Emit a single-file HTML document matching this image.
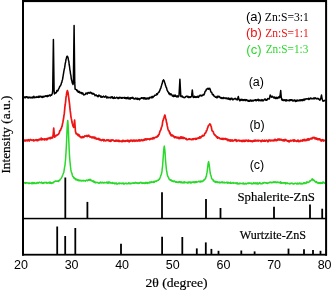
<!DOCTYPE html>
<html><head><meta charset="utf-8"><style>
html,body{margin:0;padding:0;background:#fff;}
body{width:331px;height:291px;overflow:hidden;position:relative;}
svg{position:absolute;left:0;top:0;filter:blur(0.3px);}
.s{font-family:"Liberation Sans",sans-serif;}
.r{font-family:"Liberation Serif",serif;stroke:#000;stroke-width:0.2px;}
</style></head><body>
<svg width="331" height="291" viewBox="0 0 331 291">
<g fill="none" stroke-linejoin="round">
<path d="M24.00 96.57 L24.35 97.21 L24.70 96.95 L25.05 97.90 L25.40 97.86 L25.75 96.91 L26.10 96.69 L26.45 96.81 L26.80 97.24 L27.15 97.58 L27.50 96.91 L27.85 97.02 L28.20 97.93 L28.55 97.40 L28.90 97.76 L29.25 97.27 L29.60 97.13 L29.95 97.74 L30.30 97.70 L30.65 97.26 L31.00 97.93 L31.35 97.74 L31.70 97.82 L32.05 97.04 L32.40 97.90 L32.75 97.18 L33.10 97.53 L33.45 97.66 L33.80 96.34 L34.15 96.69 L34.50 97.62 L34.85 97.73 L35.20 97.20 L35.55 97.36 L35.90 97.19 L36.25 97.09 L36.60 97.36 L36.95 96.52 L37.30 97.25 L37.65 97.24 L38.00 97.02 L38.35 97.33 L38.70 96.30 L39.05 97.35 L39.40 97.15 L39.75 96.33 L40.10 96.21 L40.45 96.69 L40.80 96.24 L41.15 96.91 L41.50 96.57 L41.85 97.18 L42.20 97.53 L42.55 96.55 L42.90 96.31 L43.25 97.15 L43.60 96.35 L43.95 96.65 L44.30 96.18 L44.65 96.73 L45.00 96.15 L45.35 96.23 L45.70 95.79 L46.05 96.19 L46.40 95.77 L46.75 96.00 L47.10 96.77 L47.45 95.52 L47.80 95.73 L48.15 96.22 L48.50 95.86 L48.85 95.73 L49.20 94.94 L49.55 95.22 L49.90 95.34 L50.25 95.97 L50.60 94.99 L50.95 95.17 L51.30 94.85 L51.65 95.11 L52.00 94.27 L52.35 93.54 L52.70 90.60 L53.40 39.40 L54.10 90.53 L54.45 94.01 L54.80 93.09 L55.15 93.29 L55.50 92.73 L55.85 92.54 L56.20 92.76 L56.55 92.08 L56.90 90.50 L57.25 91.12 L57.60 90.49 L57.95 90.84 L58.30 89.40 L58.65 88.99 L59.00 88.20 L59.35 87.78 L59.70 86.36 L60.05 86.15 L60.40 85.83 L60.75 85.04 L61.10 84.37 L61.45 82.80 L61.80 82.42 L62.15 80.57 L62.50 79.64 L62.85 77.76 L63.20 75.31 L63.55 73.29 L63.90 71.15 L64.25 69.30 L64.60 67.96 L64.95 65.54 L65.30 63.15 L65.65 61.92 L66.00 59.34 L66.35 58.39 L66.70 56.89 L67.05 56.24 L67.40 56.15 L67.40 56.14 L67.75 57.16 L68.10 57.83 L68.45 60.16 L68.80 61.03 L69.15 64.50 L69.50 66.24 L69.85 69.54 L70.20 71.14 L70.55 74.11 L70.90 75.39 L71.25 78.55 L71.60 80.12 L71.95 81.40 L72.30 83.07 L72.65 83.38 L73.00 84.57 L73.35 82.69 L74.10 25.60 L74.75 82.64 L75.10 89.12 L75.45 89.17 L75.80 89.43 L76.15 89.65 L76.50 89.73 L76.85 90.82 L77.20 90.18 L77.55 90.75 L77.90 91.90 L78.25 91.32 L78.60 92.26 L78.95 91.25 L79.30 91.87 L79.65 91.83 L80.00 92.91 L80.35 92.42 L80.70 92.78 L81.05 93.10 L81.40 93.69 L81.75 92.40 L82.10 93.42 L82.45 93.95 L82.80 93.01 L83.15 93.95 L83.50 93.92 L83.85 94.90 L84.20 94.58 L84.55 94.78 L84.90 94.45 L85.25 94.48 L85.60 93.70 L85.95 92.99 L86.30 93.71 L86.65 93.28 L87.00 93.50 L87.35 93.85 L87.70 92.95 L88.05 92.48 L88.40 92.48 L88.75 93.10 L89.10 93.03 L89.45 93.00 L89.80 93.24 L90.00 92.38 L90.15 92.15 L90.50 92.32 L90.85 92.45 L91.20 92.45 L91.55 93.36 L91.90 93.41 L92.25 94.07 L92.60 93.18 L92.95 93.89 L93.30 93.45 L93.65 94.14 L94.00 94.04 L94.35 94.07 L94.70 94.73 L95.05 95.68 L95.40 95.40 L95.75 95.37 L96.10 94.84 L96.45 95.39 L96.80 95.97 L97.15 95.84 L97.50 95.85 L97.85 96.70 L98.20 96.64 L98.55 96.05 L98.90 95.10 L99.25 95.27 L99.60 95.40 L99.95 96.12 L100.30 96.09 L100.65 96.99 L101.00 95.91 L101.35 97.16 L101.70 96.99 L102.05 97.17 L102.40 96.87 L102.75 96.89 L103.10 96.62 L103.45 96.08 L103.80 96.66 L104.15 96.87 L104.50 97.12 L104.85 96.67 L105.20 96.63 L105.55 96.20 L105.90 96.04 L106.25 97.29 L106.60 96.94 L106.95 98.13 L107.30 97.00 L107.65 97.05 L108.00 97.19 L108.35 97.75 L108.70 97.57 L109.05 97.29 L109.40 97.49 L109.75 97.69 L110.10 97.89 L110.45 98.02 L110.80 97.13 L111.15 96.91 L111.50 97.44 L111.85 97.69 L112.20 96.68 L112.55 97.91 L112.90 98.24 L113.25 97.88 L113.60 98.37 L113.95 97.83 L114.30 96.96 L114.65 97.69 L115.00 98.27 L115.35 98.19 L115.70 97.89 L116.05 97.87 L116.40 97.69 L116.75 97.22 L117.10 97.66 L117.45 98.06 L117.80 97.86 L118.15 98.66 L118.50 97.63 L118.85 98.30 L119.20 97.51 L119.55 98.00 L119.90 97.33 L120.25 97.96 L120.60 97.55 L120.95 97.57 L121.30 98.30 L121.65 97.56 L122.00 98.06 L122.35 98.15 L122.70 97.49 L123.05 97.57 L123.40 97.68 L123.75 97.73 L124.10 98.10 L124.45 97.43 L124.80 97.37 L125.15 98.14 L125.50 98.51 L125.85 97.70 L126.20 97.94 L126.55 97.81 L126.90 98.71 L127.25 98.25 L127.60 97.82 L127.95 97.26 L128.30 98.25 L128.65 98.01 L129.00 99.02 L129.35 98.64 L129.70 98.24 L130.05 97.69 L130.40 99.02 L130.75 98.02 L131.10 98.10 L131.45 98.17 L131.80 97.87 L132.15 97.37 L132.50 98.20 L132.85 97.47 L133.20 98.29 L133.55 98.75 L133.90 98.30 L134.25 98.90 L134.60 99.05 L134.95 98.84 L135.30 98.61 L135.65 98.00 L136.00 98.42 L136.35 98.99 L136.70 98.53 L137.05 99.26 L137.40 98.27 L137.75 99.39 L138.10 98.53 L138.45 98.90 L138.80 98.86 L139.15 98.58 L139.50 99.69 L139.85 98.89 L140.20 98.97 L140.55 98.70 L140.90 97.98 L141.25 97.98 L141.60 97.75 L141.95 98.31 L142.30 97.94 L142.65 98.07 L143.00 97.71 L143.35 98.64 L143.70 97.67 L144.05 98.90 L144.40 97.82 L144.75 98.44 L145.10 97.79 L145.45 99.03 L145.80 98.38 L146.15 98.91 L146.50 99.07 L146.85 98.11 L147.20 98.60 L147.55 98.11 L147.90 98.84 L148.25 98.78 L148.60 98.00 L148.95 98.95 L149.30 97.46 L149.65 98.27 L150.00 97.48 L150.35 97.19 L150.70 97.61 L151.05 97.48 L151.40 97.83 L151.75 96.80 L152.10 96.39 L152.45 97.66 L152.80 97.52 L153.15 97.17 L153.50 96.55 L153.85 96.48 L154.20 96.21 L154.55 95.23 L154.90 95.37 L155.25 95.31 L155.60 95.23 L155.95 95.02 L156.30 95.10 L156.65 93.70 L157.00 94.32 L157.35 94.40 L157.70 93.36 L158.05 92.97 L158.40 92.54 L158.75 92.02 L159.10 92.23 L159.45 91.29 L159.80 90.38 L160.15 89.44 L160.50 88.69 L160.85 88.08 L161.20 86.50 L161.55 85.43 L161.90 84.13 L162.25 83.37 L162.60 81.62 L162.95 80.58 L163.30 80.55 L163.50 79.83 L163.65 80.20 L164.00 80.34 L164.35 81.54 L164.70 82.91 L165.05 83.47 L165.40 85.13 L165.75 85.83 L166.10 87.22 L166.45 87.54 L166.80 88.91 L167.15 90.43 L167.50 90.77 L167.85 91.67 L168.20 91.98 L168.55 92.62 L168.90 93.70 L169.25 93.00 L169.60 93.98 L169.95 94.73 L170.30 94.22 L170.65 93.80 L171.00 94.73 L171.35 94.09 L171.70 94.90 L172.05 94.88 L172.40 95.89 L172.75 95.87 L173.10 96.46 L173.45 95.25 L173.80 96.57 L174.15 95.23 L174.50 95.52 L174.85 96.33 L175.20 95.04 L175.55 96.27 L175.90 96.40 L176.25 96.00 L176.60 95.97 L176.95 96.96 L177.30 96.42 L177.65 95.80 L178.00 96.76 L178.35 96.88 L178.70 96.30 L179.05 95.33 L179.90 79.20 L180.45 89.80 L180.80 96.36 L181.15 96.62 L181.50 96.30 L181.85 96.17 L182.20 95.98 L182.55 97.07 L182.90 96.97 L183.25 97.38 L183.60 97.04 L183.95 97.50 L184.30 97.46 L184.65 97.67 L185.00 97.24 L185.35 97.34 L185.70 96.45 L186.05 96.43 L186.40 96.17 L186.75 96.45 L187.10 96.18 L187.45 96.42 L187.80 97.22 L188.15 96.37 L188.50 97.44 L188.85 97.10 L189.20 96.81 L189.55 97.52 L189.90 97.23 L190.25 96.71 L190.60 97.44 L190.95 96.92 L191.30 96.70 L191.65 95.94 L192.30 89.90 L193.05 97.09 L193.40 97.14 L193.75 97.50 L194.10 97.40 L194.45 96.32 L194.80 96.78 L195.15 97.21 L195.50 96.67 L195.85 97.43 L196.20 96.63 L196.55 97.18 L196.90 97.36 L197.25 96.73 L197.60 96.39 L197.95 96.89 L198.30 97.44 L198.65 96.39 L199.00 96.74 L199.35 95.67 L199.70 95.65 L200.05 95.13 L200.40 95.84 L200.50 95.81 L200.75 95.82 L201.10 95.31 L201.45 96.04 L201.80 95.48 L202.15 95.69 L202.50 95.35 L202.85 95.00 L203.20 94.38 L203.55 95.05 L203.90 94.95 L204.25 94.22 L204.60 93.46 L204.95 91.89 L205.30 91.15 L205.65 90.95 L206.00 90.75 L206.35 89.30 L206.70 89.37 L206.80 89.27 L207.05 89.25 L207.40 88.44 L207.75 88.46 L208.10 88.24 L208.45 89.16 L208.80 89.16 L209.15 88.63 L209.50 88.88 L209.80 88.41 L209.85 88.97 L210.20 89.25 L210.55 90.92 L210.90 91.64 L211.25 92.31 L211.60 92.16 L211.95 93.11 L212.30 94.34 L212.65 94.73 L213.00 94.65 L213.35 94.55 L213.70 95.76 L214.05 96.10 L214.40 96.19 L214.75 96.32 L215.10 96.73 L215.45 97.25 L215.80 97.27 L216.15 97.15 L216.50 97.73 L216.85 96.60 L217.20 97.80 L217.55 96.25 L217.90 96.21 L218.25 96.56 L218.60 96.27 L218.95 97.13 L219.30 96.51 L219.65 97.04 L220.00 96.91 L220.35 97.98 L220.70 98.10 L221.05 97.84 L221.40 97.62 L221.75 98.44 L222.10 97.88 L222.45 98.43 L222.80 97.90 L223.15 97.98 L223.50 97.45 L223.85 98.49 L224.20 98.12 L224.55 97.89 L224.90 98.12 L225.25 98.00 L225.60 98.08 L225.95 98.74 L226.30 97.94 L226.65 98.58 L227.00 98.35 L227.35 98.90 L227.70 98.23 L228.05 98.14 L228.40 99.09 L228.75 97.90 L229.10 99.23 L229.45 98.84 L229.80 98.76 L230.15 99.73 L230.50 98.45 L230.85 99.11 L231.20 98.36 L231.55 98.96 L231.90 98.26 L232.25 99.02 L232.60 99.77 L232.95 99.87 L233.30 99.12 L233.65 99.26 L234.00 99.13 L234.35 98.77 L234.70 98.86 L235.05 98.37 L235.40 98.73 L235.75 98.47 L236.10 99.38 L236.45 99.21 L236.80 99.35 L237.15 100.02 L237.50 99.33 L238.30 96.40 L238.90 99.15 L239.25 99.96 L239.60 100.29 L239.95 100.94 L240.30 99.55 L240.65 100.10 L241.00 99.63 L241.35 100.12 L241.70 99.34 L242.05 99.36 L242.40 99.87 L242.75 100.48 L243.10 99.66 L243.45 100.41 L243.80 99.68 L244.15 99.64 L244.50 99.61 L244.85 100.39 L245.20 100.37 L245.55 100.60 L245.90 99.62 L246.25 99.84 L246.60 99.86 L246.95 100.20 L247.30 100.88 L247.65 100.41 L248.00 100.17 L248.35 100.60 L248.70 101.32 L249.05 101.18 L249.40 100.98 L249.75 101.28 L250.10 100.05 L250.45 100.11 L250.80 100.70 L251.15 100.47 L251.50 101.14 L251.85 100.36 L252.20 100.38 L252.55 100.91 L252.90 100.31 L253.25 100.98 L253.60 100.20 L253.95 100.32 L254.30 100.25 L254.65 100.38 L255.00 99.74 L255.35 100.43 L255.70 99.75 L256.05 99.73 L256.40 100.84 L256.75 99.97 L257.10 100.14 L257.45 100.18 L257.80 99.89 L258.15 99.22 L258.50 100.52 L258.85 100.81 L259.20 100.66 L259.55 99.84 L259.90 100.11 L260.25 99.91 L260.60 100.32 L260.95 101.02 L261.30 99.95 L261.65 100.26 L262.00 99.59 L262.35 100.40 L262.70 99.95 L263.05 100.88 L263.40 100.55 L263.75 100.43 L264.10 99.88 L264.45 99.36 L264.80 98.95 L265.15 99.33 L265.50 99.12 L265.85 100.22 L266.20 100.21 L266.55 99.78 L266.90 100.15 L267.25 99.63 L267.60 98.69 L267.95 98.57 L268.30 98.67 L268.65 98.91 L269.00 98.49 L269.35 98.87 L270.20 94.90 L270.75 96.31 L271.10 96.12 L271.30 97.19 L271.45 96.79 L271.80 96.77 L272.15 97.02 L272.50 96.25 L272.85 97.02 L273.20 96.98 L273.55 97.43 L273.90 97.97 L274.25 97.06 L274.60 97.89 L274.95 97.66 L275.30 98.53 L275.65 98.51 L276.00 97.25 L276.35 97.91 L276.70 97.58 L277.05 98.53 L277.40 98.31 L277.75 97.63 L278.10 97.93 L278.45 96.95 L278.80 97.66 L279.15 96.95 L279.30 96.64 L279.50 97.68 L279.85 97.38 L280.70 90.60 L281.25 97.22 L281.60 98.94 L281.95 99.89 L282.30 100.33 L282.65 99.38 L283.00 99.58 L283.35 100.60 L283.70 100.30 L284.05 100.18 L284.40 99.81 L284.75 99.89 L285.10 100.74 L285.45 100.19 L285.80 99.78 L286.15 100.92 L286.50 99.78 L286.85 100.49 L287.20 100.58 L287.55 100.17 L287.90 100.46 L288.25 100.37 L288.60 100.45 L288.95 100.71 L289.30 99.90 L289.65 100.73 L290.00 100.29 L290.35 99.68 L290.70 99.87 L291.05 100.41 L291.40 99.93 L291.75 99.79 L292.10 99.84 L292.45 100.78 L292.80 100.43 L293.15 100.99 L293.50 100.24 L293.85 100.72 L294.20 100.75 L294.55 100.72 L294.90 99.89 L295.25 100.97 L295.60 101.42 L295.95 101.02 L296.30 100.46 L296.65 101.13 L297.00 99.97 L297.35 100.23 L297.70 100.87 L298.05 100.26 L298.40 100.70 L298.75 100.42 L299.10 100.75 L299.45 100.79 L299.80 99.96 L300.15 99.70 L300.50 100.62 L300.85 100.32 L301.20 99.90 L301.55 100.51 L301.90 99.69 L302.25 99.86 L302.60 100.63 L302.95 99.48 L303.30 99.75 L303.65 99.20 L304.00 100.41 L304.35 99.62 L304.70 99.01 L305.05 99.71 L305.40 99.05 L305.75 98.90 L306.10 99.08 L306.45 98.77 L306.80 98.97 L307.15 99.07 L307.50 98.71 L307.85 99.01 L308.20 99.10 L308.55 98.26 L308.90 99.54 L309.25 99.14 L309.60 99.07 L309.95 98.85 L310.30 97.92 L310.65 98.53 L311.00 98.52 L311.35 98.75 L311.70 98.35 L312.05 98.64 L312.40 98.68 L312.75 98.78 L313.10 98.70 L313.45 97.96 L313.80 98.73 L314.15 98.69 L314.50 98.81 L314.85 97.82 L315.20 97.76 L315.55 98.15 L315.90 98.13 L316.25 98.86 L316.60 98.61 L316.95 98.84 L317.30 98.58 L317.65 98.35 L318.00 98.61 L318.35 98.94 L318.70 98.65 L319.05 99.56 L319.40 99.64 L319.75 100.15 L320.10 100.06 L320.45 99.03 L320.80 97.99 L321.50 95.10 L322.20 99.45 L322.55 100.03 L322.90 101.11 L323.25 100.59 L323.60 101.21 L323.95 100.93 L324.30 100.85 L324.65 100.35 L325.00 100.84" stroke="#000" stroke-width="1.5"/>
<path d="M24.00 139.91 L24.35 140.05 L24.70 140.89 L25.05 140.89 L25.40 140.02 L25.75 140.97 L26.10 140.54 L26.45 140.28 L26.80 140.07 L27.15 139.98 L27.50 140.79 L27.85 140.39 L28.20 140.23 L28.55 139.69 L28.90 140.12 L29.25 141.05 L29.60 140.40 L29.95 140.01 L30.30 139.51 L30.65 139.87 L31.00 139.88 L31.35 139.91 L31.70 140.30 L32.05 140.23 L32.40 140.02 L32.75 140.06 L33.10 140.58 L33.45 139.86 L33.80 140.96 L34.15 139.94 L34.50 140.45 L34.85 140.53 L35.20 140.29 L35.55 140.11 L35.90 139.72 L36.25 139.82 L36.60 139.68 L36.95 140.58 L37.30 140.45 L37.65 139.89 L38.00 140.59 L38.35 139.65 L38.70 139.72 L39.05 139.39 L39.40 139.11 L39.75 139.96 L40.10 139.79 L40.45 139.57 L40.80 139.52 L41.15 138.16 L41.50 139.05 L41.85 139.88 L42.20 138.79 L42.55 138.85 L42.90 139.11 L43.25 139.46 L43.60 139.15 L43.95 139.29 L44.30 139.92 L44.65 138.81 L45.00 139.79 L45.35 139.22 L45.70 139.42 L46.05 139.46 L46.40 138.68 L46.75 139.88 L47.10 139.74 L47.45 138.89 L47.80 138.40 L48.15 138.01 L48.50 138.21 L48.85 138.62 L49.20 138.65 L49.55 137.89 L49.90 137.65 L50.25 137.76 L50.60 138.61 L50.95 137.36 L51.30 137.41 L51.65 138.10 L52.00 137.26 L52.35 137.24 L52.70 137.75 L53.05 136.03 L53.70 128.20 L54.45 136.24 L54.80 137.22 L55.15 135.81 L55.50 135.72 L55.85 135.86 L56.20 135.43 L56.55 135.60 L56.90 135.25 L57.25 134.97 L57.60 134.50 L57.95 134.56 L58.30 134.50 L58.65 134.01 L59.00 133.05 L59.35 132.75 L59.70 130.91 L60.05 130.31 L60.40 130.59 L60.75 129.44 L61.10 128.58 L61.45 127.98 L61.80 126.62 L62.15 126.04 L62.50 123.66 L62.85 122.46 L63.20 120.27 L63.55 118.74 L63.90 115.93 L64.25 113.91 L64.60 110.37 L64.95 106.38 L65.30 104.26 L65.65 101.32 L66.00 97.27 L66.35 95.71 L66.70 92.92 L67.05 91.72 L67.40 90.52 L67.40 91.52 L67.75 91.60 L68.10 92.90 L68.45 95.78 L68.80 98.06 L69.15 101.12 L69.50 103.54 L69.85 107.32 L70.20 110.67 L70.55 113.11 L70.90 116.28 L71.25 118.39 L71.60 119.85 L71.95 122.05 L72.30 123.46 L72.65 124.59 L73.00 126.19 L73.35 126.54 L73.70 127.31 L74.05 125.00 L74.60 120.10 L75.10 126.47 L75.45 131.22 L75.80 132.55 L76.15 133.79 L76.50 133.41 L76.85 134.23 L77.20 134.28 L77.55 134.98 L77.90 134.12 L78.25 135.64 L78.60 135.84 L78.95 134.86 L79.30 135.19 L79.65 136.03 L80.00 136.87 L80.35 136.90 L80.70 136.87 L81.05 137.61 L81.40 137.14 L81.75 137.65 L82.10 137.13 L82.45 136.54 L82.80 137.60 L83.15 137.59 L83.50 136.80 L83.85 137.22 L84.20 136.86 L84.55 135.93 L84.90 136.17 L85.25 136.16 L85.60 136.04 L85.95 135.93 L86.30 136.02 L86.65 136.23 L87.00 136.38 L87.00 135.42 L87.35 136.52 L87.70 135.84 L88.05 136.17 L88.40 135.71 L88.75 135.22 L89.10 136.20 L89.45 136.22 L89.80 136.92 L90.15 136.73 L90.50 136.56 L90.85 136.60 L91.20 137.39 L91.55 137.61 L91.90 137.79 L92.25 137.08 L92.60 137.64 L92.95 136.84 L93.30 137.73 L93.65 137.36 L94.00 138.02 L94.35 137.25 L94.70 138.25 L95.05 137.35 L95.40 138.67 L95.75 138.30 L96.10 138.11 L96.45 138.47 L96.80 139.16 L97.15 138.88 L97.50 138.61 L97.85 138.65 L98.20 139.31 L98.55 139.26 L98.90 138.46 L99.25 139.82 L99.60 139.29 L99.95 139.85 L100.30 139.47 L100.65 140.01 L101.00 140.34 L101.35 140.60 L101.70 140.09 L102.05 139.68 L102.40 140.04 L102.75 139.62 L103.10 139.60 L103.45 139.76 L103.80 141.00 L104.15 140.34 L104.50 139.72 L104.85 140.33 L105.20 140.62 L105.55 140.84 L105.90 140.80 L106.25 140.73 L106.60 140.01 L106.95 140.21 L107.30 140.35 L107.65 139.89 L108.00 140.28 L108.35 139.91 L108.70 139.97 L109.05 141.11 L109.40 140.33 L109.75 140.91 L110.10 141.15 L110.45 141.30 L110.80 140.13 L111.15 139.82 L111.50 140.88 L111.85 140.16 L112.20 140.11 L112.55 139.85 L112.90 140.17 L113.25 140.03 L113.60 140.47 L113.95 140.68 L114.30 141.11 L114.65 140.84 L115.00 141.15 L115.35 140.48 L115.70 140.36 L116.05 141.19 L116.40 140.21 L116.75 141.02 L117.10 141.02 L117.45 141.03 L117.80 140.38 L118.15 140.27 L118.50 141.32 L118.85 140.41 L119.20 140.55 L119.55 141.43 L119.90 141.23 L120.25 141.30 L120.60 141.07 L120.95 141.14 L121.30 141.15 L121.65 140.94 L122.00 141.78 L122.35 141.34 L122.70 141.36 L123.05 140.24 L123.40 140.88 L123.75 141.28 L124.10 141.03 L124.45 141.27 L124.80 140.68 L125.15 140.82 L125.50 140.59 L125.85 141.31 L126.20 140.83 L126.55 140.87 L126.90 140.71 L127.25 140.14 L127.60 141.20 L127.95 140.85 L128.30 140.48 L128.65 141.52 L129.00 141.45 L129.35 141.77 L129.70 140.91 L130.05 140.30 L130.40 140.22 L130.75 141.00 L131.10 140.69 L131.45 140.14 L131.80 140.56 L132.15 140.61 L132.50 141.29 L132.85 140.38 L133.20 140.45 L133.55 140.73 L133.90 140.12 L134.25 141.28 L134.60 140.20 L134.95 140.82 L135.30 140.59 L135.65 141.07 L136.00 140.06 L136.35 140.51 L136.70 140.77 L137.05 140.32 L137.40 140.97 L137.75 140.73 L138.10 141.03 L138.45 140.32 L138.80 139.95 L139.15 139.93 L139.50 139.95 L139.85 141.05 L140.20 140.88 L140.55 140.18 L140.90 140.26 L141.25 139.74 L141.60 140.41 L141.95 140.59 L142.30 139.90 L142.65 140.22 L143.00 140.56 L143.35 140.04 L143.70 140.00 L144.05 139.32 L144.40 140.10 L144.75 139.08 L145.10 139.52 L145.45 139.20 L145.80 138.87 L146.15 139.88 L146.50 138.98 L146.85 139.36 L147.20 139.49 L147.55 138.86 L147.90 139.01 L148.25 139.15 L148.60 139.19 L148.95 139.23 L149.30 138.95 L149.65 139.68 L150.00 138.94 L150.35 139.12 L150.70 138.79 L151.05 138.35 L151.40 138.53 L151.75 138.92 L152.10 138.91 L152.45 138.99 L152.80 137.96 L153.15 138.08 L153.50 137.64 L153.85 138.73 L154.20 138.11 L154.55 138.11 L154.90 137.61 L155.25 137.23 L155.60 137.31 L155.95 137.02 L156.30 137.17 L156.65 137.34 L157.00 137.11 L157.35 136.14 L157.70 135.75 L158.05 136.22 L158.40 135.41 L158.75 134.65 L159.10 134.64 L159.45 133.00 L159.80 131.95 L160.15 130.89 L160.50 130.33 L160.85 129.76 L161.20 128.28 L161.55 127.01 L161.90 126.31 L162.25 125.24 L162.60 122.16 L162.95 120.56 L163.30 120.00 L163.65 118.32 L164.00 117.58 L164.35 116.63 L164.70 115.13 L164.70 115.85 L165.05 115.32 L165.40 117.35 L165.75 118.92 L166.10 119.59 L166.45 122.26 L166.80 122.94 L167.15 125.41 L167.50 126.85 L167.85 128.46 L168.20 129.79 L168.55 130.75 L168.90 130.91 L169.25 131.10 L169.60 133.05 L169.95 132.54 L170.30 134.25 L170.65 133.94 L171.00 135.60 L171.35 135.36 L171.70 135.00 L172.05 135.86 L172.40 135.12 L172.75 135.36 L173.10 135.71 L173.45 136.11 L173.80 136.09 L174.15 137.29 L174.50 136.80 L174.85 137.69 L175.20 136.76 L175.55 137.01 L175.90 137.42 L176.25 137.75 L176.60 137.10 L176.95 137.23 L177.30 137.97 L177.65 137.32 L178.00 137.38 L178.35 138.27 L178.70 137.79 L179.05 137.40 L179.40 138.65 L179.75 138.12 L180.10 137.90 L180.45 138.37 L180.80 136.85 L181.15 138.06 L181.50 137.01 L181.85 137.18 L182.00 138.49 L182.20 137.75 L182.55 137.20 L182.90 138.22 L183.25 137.40 L183.60 138.40 L183.95 137.88 L184.30 137.75 L184.65 137.99 L185.00 138.41 L185.35 138.78 L185.70 138.64 L186.05 138.43 L186.40 139.36 L186.75 139.68 L187.10 139.29 L187.45 139.45 L187.80 139.59 L188.15 139.28 L188.50 139.24 L188.85 138.86 L189.20 139.25 L189.55 138.90 L189.90 138.88 L190.25 139.11 L190.60 139.36 L190.95 139.21 L191.30 139.71 L191.65 139.26 L192.00 139.43 L192.35 139.10 L192.70 138.80 L193.05 139.62 L193.40 138.73 L193.75 138.86 L194.10 138.89 L194.45 139.00 L194.80 138.63 L195.15 138.44 L195.50 139.31 L195.85 138.96 L196.20 138.40 L196.55 139.12 L196.90 138.77 L197.25 138.54 L197.60 137.99 L197.95 138.07 L198.30 137.78 L198.65 138.47 L199.00 138.39 L199.35 137.70 L199.70 136.91 L200.05 136.85 L200.40 137.97 L200.75 137.92 L201.10 137.13 L201.45 136.39 L201.80 136.41 L202.15 136.08 L202.50 135.33 L202.85 136.11 L203.20 135.81 L203.55 135.49 L203.90 135.53 L204.25 135.20 L204.60 133.95 L204.95 133.28 L205.30 133.02 L205.65 132.97 L206.00 131.98 L206.35 130.67 L206.70 130.69 L207.05 129.72 L207.40 128.30 L207.75 127.90 L208.10 126.38 L208.45 125.81 L208.80 125.11 L209.15 125.14 L209.50 124.55 L209.60 124.73 L209.85 123.77 L210.20 124.58 L210.55 124.68 L210.90 125.85 L211.25 126.69 L211.60 128.62 L211.95 130.44 L212.30 131.08 L212.65 131.16 L213.00 131.48 L213.35 131.93 L213.70 133.70 L214.05 133.99 L214.40 134.49 L214.75 135.15 L215.10 134.86 L215.45 135.74 L215.80 135.89 L216.15 136.10 L216.50 137.08 L216.85 137.24 L217.20 136.79 L217.55 138.24 L217.90 137.33 L218.25 137.80 L218.60 137.69 L218.95 137.99 L219.30 137.94 L219.65 138.37 L220.00 138.77 L220.35 138.91 L220.70 138.65 L221.05 138.38 L221.40 139.06 L221.75 139.20 L222.10 139.26 L222.45 138.45 L222.80 138.62 L223.15 139.42 L223.50 138.59 L223.85 138.49 L224.20 138.99 L224.55 138.84 L224.90 139.24 L225.25 138.48 L225.60 138.92 L225.95 139.19 L226.30 139.35 L226.65 138.99 L227.00 139.83 L227.35 139.22 L227.70 139.77 L228.05 140.74 L228.40 139.64 L228.75 140.27 L229.10 140.01 L229.45 140.75 L229.80 140.16 L230.15 139.90 L230.50 141.07 L230.85 140.75 L231.20 139.96 L231.55 140.55 L231.90 140.28 L232.25 141.08 L232.60 140.06 L232.95 140.72 L233.30 140.97 L233.65 140.69 L234.00 140.46 L234.35 140.23 L234.70 139.83 L235.05 139.59 L235.40 139.70 L235.75 140.69 L236.10 140.48 L236.45 139.89 L236.80 141.36 L237.15 140.86 L237.50 140.38 L237.85 140.81 L238.20 140.62 L238.55 140.22 L238.90 140.68 L239.25 140.56 L239.60 140.31 L239.95 141.14 L240.30 140.87 L240.65 140.68 L241.00 140.51 L241.35 141.01 L241.70 140.54 L242.05 141.59 L242.40 140.79 L242.75 141.16 L243.10 140.23 L243.45 140.62 L243.80 140.89 L244.15 141.54 L244.50 140.49 L244.85 140.90 L245.20 140.33 L245.55 141.23 L245.90 140.83 L246.25 140.19 L246.60 140.60 L246.95 140.45 L247.30 140.65 L247.65 141.11 L248.00 141.41 L248.35 140.07 L248.70 140.69 L249.05 141.13 L249.40 140.65 L249.75 140.69 L250.10 140.67 L250.45 141.30 L250.80 140.66 L251.15 140.86 L251.50 140.89 L251.85 141.20 L252.20 141.67 L252.55 141.74 L252.90 140.79 L253.25 140.63 L253.60 141.12 L253.95 140.92 L254.30 140.28 L254.65 141.18 L255.00 140.94 L255.35 140.23 L255.70 140.79 L256.05 140.33 L256.40 140.85 L256.75 140.84 L257.10 140.29 L257.45 140.32 L257.80 140.65 L258.15 141.14 L258.50 140.42 L258.85 140.48 L259.20 140.41 L259.55 140.65 L259.90 140.70 L260.25 140.56 L260.60 141.11 L260.95 141.67 L261.30 140.57 L261.65 141.46 L262.00 140.37 L262.35 140.67 L262.70 140.26 L263.05 140.68 L263.40 141.13 L263.75 141.25 L264.10 141.13 L264.45 140.94 L264.80 140.24 L265.15 141.07 L265.50 141.23 L265.85 140.66 L266.20 140.63 L266.55 140.17 L266.90 140.50 L267.25 140.72 L267.60 140.58 L267.95 141.79 L268.30 141.48 L268.65 140.44 L269.00 139.86 L269.35 140.39 L269.70 140.24 L270.05 140.91 L270.40 140.39 L270.75 140.19 L271.10 140.89 L271.45 140.33 L271.80 140.51 L272.15 140.25 L272.50 140.63 L272.85 140.42 L273.20 140.80 L273.55 140.53 L273.90 140.51 L274.25 139.54 L274.60 140.73 L274.95 139.56 L275.30 139.42 L275.65 139.83 L276.00 140.50 L276.35 140.72 L276.70 140.47 L277.05 139.63 L277.40 140.27 L277.75 139.10 L278.10 139.09 L278.45 139.16 L278.80 139.94 L279.15 139.84 L279.50 139.04 L279.85 139.88 L280.00 139.98 L280.20 139.23 L280.55 139.99 L280.90 139.72 L281.25 139.35 L281.60 140.08 L281.95 140.15 L282.30 140.57 L282.65 139.97 L283.00 140.21 L283.35 139.93 L283.70 140.55 L284.05 141.11 L284.40 139.60 L284.75 140.03 L285.10 139.89 L285.45 140.44 L285.80 139.44 L286.15 140.35 L286.50 140.15 L286.85 140.64 L287.20 141.12 L287.55 141.08 L287.90 140.63 L288.25 140.64 L288.60 141.59 L288.95 141.17 L289.30 141.75 L289.65 141.21 L290.00 140.50 L290.35 140.37 L290.70 140.53 L291.05 141.08 L291.40 140.52 L291.75 140.54 L292.10 140.53 L292.45 140.11 L292.80 140.52 L293.15 140.49 L293.50 141.26 L293.85 139.82 L294.20 141.16 L294.55 140.14 L294.90 140.81 L295.25 140.47 L295.60 140.56 L295.95 141.23 L296.30 141.20 L296.65 141.38 L297.00 140.64 L297.35 140.47 L297.70 141.06 L298.05 140.04 L298.40 141.37 L298.75 141.61 L299.10 141.18 L299.45 141.45 L299.80 140.92 L300.15 141.28 L300.50 140.29 L300.85 140.44 L301.20 140.64 L301.55 140.57 L301.90 141.15 L302.25 141.08 L302.60 139.79 L302.95 139.94 L303.30 139.63 L303.65 139.95 L304.00 140.76 L304.35 140.16 L304.70 139.34 L305.05 139.95 L305.40 140.54 L305.75 140.59 L306.10 140.50 L306.45 140.23 L306.80 139.47 L307.15 140.26 L307.50 139.23 L307.85 139.85 L308.20 138.70 L308.55 138.90 L308.90 140.13 L309.25 139.13 L309.60 139.49 L309.95 139.25 L310.30 138.80 L310.65 138.53 L311.00 138.32 L311.35 138.78 L311.70 138.46 L312.00 138.87 L312.05 138.73 L312.40 137.52 L312.75 137.69 L313.10 137.69 L313.45 137.32 L313.80 137.78 L314.15 138.43 L314.50 137.50 L314.85 138.42 L315.20 138.86 L315.55 137.98 L315.90 138.98 L316.25 138.11 L316.60 139.22 L316.95 138.40 L317.30 138.52 L317.65 139.57 L318.00 138.87 L318.35 138.91 L318.70 139.17 L319.05 139.79 L319.40 138.84 L319.75 138.99 L320.10 139.02 L320.45 140.01 L320.80 139.75 L321.15 141.11 L321.50 140.27 L321.85 140.26 L322.20 139.71 L322.55 140.61 L322.90 139.88 L323.25 139.96 L323.60 141.06 L323.95 140.01 L324.30 140.43 L324.65 140.54 L325.00 140.12" stroke="#ee1414" stroke-width="1.7"/>
<path d="M24.00 183.19 L24.35 182.78 L24.70 182.96 L25.05 183.23 L25.40 182.63 L25.75 183.16 L26.10 182.86 L26.45 182.93 L26.80 182.79 L27.15 182.99 L27.50 182.83 L27.85 183.03 L28.20 183.05 L28.55 183.40 L28.90 183.04 L29.25 183.53 L29.60 182.93 L29.95 183.33 L30.30 183.17 L30.65 183.33 L31.00 182.99 L31.35 183.67 L31.70 183.35 L32.05 182.51 L32.40 183.07 L32.75 183.71 L33.10 182.64 L33.45 182.98 L33.80 183.53 L34.15 182.66 L34.50 183.40 L34.85 183.08 L35.20 183.27 L35.55 183.13 L35.90 183.68 L36.25 182.96 L36.60 183.19 L36.95 182.52 L37.30 182.98 L37.65 182.66 L38.00 183.18 L38.35 183.24 L38.70 182.38 L39.05 182.35 L39.40 182.35 L39.75 182.34 L40.10 182.92 L40.45 182.75 L40.80 182.79 L41.15 182.72 L41.50 182.15 L41.85 182.59 L42.20 183.37 L42.55 183.26 L42.90 183.07 L43.25 182.61 L43.60 183.42 L43.95 182.76 L44.30 182.93 L44.65 182.36 L45.00 182.45 L45.35 182.56 L45.70 182.71 L46.05 182.35 L46.40 183.17 L46.75 182.64 L47.10 183.16 L47.45 183.05 L47.80 183.02 L48.15 182.44 L48.50 182.40 L48.85 182.92 L49.20 182.47 L49.55 182.20 L49.90 183.12 L50.25 182.13 L50.60 183.30 L50.95 182.69 L51.30 182.79 L51.65 183.48 L52.00 182.78 L52.35 182.97 L52.70 182.44 L53.05 182.88 L53.40 182.57 L53.75 182.18 L54.10 181.56 L54.45 181.69 L54.80 181.65 L55.15 181.19 L55.50 181.29 L55.50 180.90 L55.85 181.13 L56.20 181.09 L56.55 181.19 L56.90 181.20 L57.25 181.23 L57.60 180.94 L57.95 181.01 L58.30 181.38 L58.65 180.57 L59.00 180.79 L59.35 180.81 L59.70 180.40 L60.05 179.59 L60.40 178.91 L60.75 178.86 L61.10 178.47 L61.45 177.82 L61.80 177.07 L62.15 176.59 L62.50 175.41 L62.85 174.83 L63.20 173.64 L63.55 173.05 L63.90 171.98 L64.25 169.36 L64.60 167.21 L64.95 165.58 L65.30 162.02 L65.65 158.24 L66.00 152.58 L66.35 146.21 L66.70 138.87 L67.05 130.13 L67.40 123.30 L67.70 121.06 L67.75 120.38 L68.10 124.52 L68.45 132.18 L68.80 141.01 L69.15 148.69 L69.50 155.74 L69.85 160.27 L70.20 163.56 L70.55 167.26 L70.90 169.97 L71.25 171.72 L71.60 172.76 L71.95 173.27 L72.30 175.21 L72.65 176.19 L73.00 176.64 L73.35 176.93 L73.70 177.44 L74.05 178.34 L74.40 177.82 L74.75 178.83 L75.10 178.70 L75.45 178.50 L75.80 179.69 L76.15 179.38 L76.50 179.15 L76.85 179.31 L77.20 180.27 L77.55 179.62 L77.90 180.51 L78.25 180.63 L78.60 179.82 L78.95 180.29 L79.30 180.73 L79.65 180.38 L80.00 180.83 L80.35 180.34 L80.70 180.72 L81.05 180.28 L81.40 181.03 L81.75 181.01 L82.10 180.70 L82.45 180.53 L82.80 180.67 L83.15 181.01 L83.50 180.39 L83.85 180.78 L84.20 180.53 L84.55 180.63 L84.90 180.64 L85.25 181.23 L85.60 180.38 L85.95 180.38 L86.30 180.27 L86.65 180.07 L87.00 180.52 L87.35 180.86 L87.70 180.76 L88.05 180.10 L88.40 179.79 L88.75 180.16 L89.00 179.66 L89.10 179.70 L89.45 179.92 L89.80 179.38 L90.15 180.39 L90.50 179.52 L90.85 180.04 L91.20 180.69 L91.55 180.53 L91.90 180.55 L92.25 181.18 L92.60 181.51 L92.95 181.27 L93.30 180.82 L93.65 182.05 L94.00 181.24 L94.35 182.17 L94.70 182.57 L95.05 181.81 L95.40 182.46 L95.75 182.87 L96.10 182.39 L96.45 182.50 L96.80 182.32 L97.15 182.44 L97.50 182.38 L97.85 182.58 L98.20 183.13 L98.55 183.08 L98.90 183.17 L99.25 183.03 L99.60 183.16 L99.95 182.35 L100.30 182.78 L100.65 182.09 L101.00 182.59 L101.35 182.98 L101.70 182.50 L102.05 182.26 L102.40 182.29 L102.75 182.49 L103.10 183.11 L103.45 183.05 L103.80 182.64 L104.15 182.91 L104.50 182.77 L104.85 182.34 L105.20 182.55 L105.55 182.85 L105.90 182.78 L106.25 182.71 L106.60 182.47 L106.95 182.04 L107.30 183.06 L107.65 182.23 L108.00 183.20 L108.35 182.08 L108.70 183.01 L109.05 182.23 L109.40 182.93 L109.75 182.14 L110.10 182.80 L110.45 182.58 L110.80 183.14 L111.15 183.12 L111.50 182.89 L111.85 183.20 L112.20 183.52 L112.55 182.44 L112.90 182.98 L113.25 183.21 L113.60 183.29 L113.95 182.97 L114.30 183.74 L114.65 183.00 L115.00 183.74 L115.35 183.31 L115.70 182.94 L116.05 183.78 L116.40 182.99 L116.75 183.95 L117.10 183.79 L117.45 184.09 L117.80 183.97 L118.15 183.46 L118.50 183.12 L118.85 183.25 L119.20 182.97 L119.55 183.84 L119.90 183.24 L120.25 183.30 L120.60 183.28 L120.95 183.36 L121.30 183.67 L121.65 183.36 L122.00 183.41 L122.35 183.03 L122.70 183.43 L123.05 183.37 L123.40 184.00 L123.75 183.13 L124.10 183.86 L124.45 183.98 L124.80 183.77 L125.15 183.22 L125.50 183.41 L125.85 183.35 L126.20 183.31 L126.55 183.21 L126.90 183.96 L127.25 183.63 L127.60 183.61 L127.95 183.27 L128.30 182.88 L128.65 183.67 L129.00 183.20 L129.35 182.93 L129.70 183.67 L130.05 183.17 L130.40 183.81 L130.75 183.68 L131.10 183.09 L131.45 183.22 L131.80 183.45 L132.15 183.35 L132.50 183.17 L132.85 182.79 L133.20 182.88 L133.55 183.26 L133.90 182.92 L134.25 183.21 L134.60 183.15 L134.95 182.75 L135.30 182.42 L135.65 183.09 L136.00 182.67 L136.35 183.12 L136.70 182.79 L137.05 182.97 L137.40 183.24 L137.75 183.47 L138.10 182.73 L138.45 183.39 L138.80 183.36 L139.15 183.10 L139.50 183.25 L139.85 182.70 L140.20 182.51 L140.55 182.68 L140.90 182.34 L141.25 182.68 L141.60 183.12 L141.95 182.57 L142.30 183.37 L142.65 183.00 L143.00 182.77 L143.35 183.31 L143.70 183.04 L144.05 182.87 L144.40 183.04 L144.75 183.55 L145.10 183.21 L145.45 182.59 L145.80 183.29 L146.15 182.39 L146.50 182.73 L146.85 182.77 L147.20 183.57 L147.55 182.45 L147.90 183.28 L148.25 183.02 L148.60 182.44 L148.95 182.88 L149.30 182.96 L149.65 182.79 L150.00 181.85 L150.35 182.65 L150.70 182.05 L151.05 182.59 L151.40 182.18 L151.75 181.54 L152.10 182.33 L152.45 182.26 L152.80 182.26 L153.15 182.49 L153.50 182.06 L153.85 181.39 L154.20 182.34 L154.55 181.56 L154.90 181.52 L155.25 181.05 L155.60 181.60 L155.95 181.57 L156.30 180.91 L156.65 181.23 L157.00 180.52 L157.35 180.53 L157.70 180.33 L158.05 180.21 L158.40 180.32 L158.75 179.79 L159.10 179.11 L159.45 179.30 L159.80 178.19 L160.15 177.56 L160.50 176.47 L160.85 175.28 L161.20 174.87 L161.55 173.24 L161.90 172.06 L162.25 168.34 L162.60 165.85 L162.95 160.59 L163.30 155.94 L163.65 150.81 L164.00 147.60 L164.30 146.05 L164.35 146.02 L164.70 148.76 L165.05 152.59 L165.40 158.24 L165.75 163.04 L166.10 166.39 L166.45 169.89 L166.80 171.76 L167.15 173.82 L167.50 175.61 L167.85 176.57 L168.20 176.82 L168.55 177.44 L168.90 178.76 L169.25 179.20 L169.60 179.62 L169.95 179.53 L170.30 180.38 L170.65 180.23 L171.00 179.77 L171.35 180.01 L171.70 180.75 L172.05 181.36 L172.40 181.03 L172.75 180.81 L173.10 181.45 L173.45 181.03 L173.80 181.74 L174.15 181.52 L174.50 180.94 L174.85 181.40 L175.20 181.47 L175.55 182.20 L175.90 182.19 L176.25 181.80 L176.60 182.24 L176.95 181.80 L177.30 182.36 L177.65 182.39 L178.00 182.49 L178.35 181.84 L178.70 182.39 L179.05 182.09 L179.40 182.33 L179.75 181.49 L180.10 182.32 L180.45 182.59 L180.80 182.17 L181.15 181.70 L181.50 182.79 L181.85 182.49 L182.20 182.24 L182.55 182.68 L182.90 183.00 L183.25 182.06 L183.60 182.54 L183.95 182.56 L184.30 182.85 L184.65 181.73 L185.00 182.23 L185.35 182.49 L185.70 182.38 L186.05 182.63 L186.40 182.54 L186.75 182.67 L187.10 182.77 L187.45 182.27 L187.80 183.14 L188.15 182.68 L188.50 181.92 L188.85 182.71 L189.20 182.51 L189.55 182.53 L189.90 181.86 L190.25 182.74 L190.60 182.41 L190.95 183.10 L191.30 182.30 L191.65 182.49 L192.00 182.18 L192.35 181.91 L192.70 182.11 L193.05 182.41 L193.40 182.02 L193.75 181.83 L194.10 182.56 L194.45 182.30 L194.80 182.59 L195.15 181.78 L195.50 181.65 L195.85 182.57 L196.20 181.41 L196.55 182.12 L196.90 182.16 L197.25 181.94 L197.60 181.91 L197.95 181.80 L198.30 181.62 L198.65 181.22 L199.00 181.47 L199.35 181.62 L199.70 181.31 L200.05 182.14 L200.40 182.00 L200.75 180.96 L201.10 181.24 L201.45 181.69 L201.80 181.43 L202.15 181.13 L202.50 181.56 L202.85 180.99 L203.20 180.86 L203.55 180.73 L203.90 179.82 L204.25 180.08 L204.60 179.36 L204.95 179.52 L205.30 178.44 L205.65 178.29 L206.00 176.74 L206.35 176.29 L206.70 173.79 L207.05 172.41 L207.40 169.88 L207.75 166.88 L208.10 163.67 L208.45 162.10 L208.60 161.62 L208.80 162.62 L209.15 164.43 L209.50 167.05 L209.85 170.03 L210.20 173.02 L210.55 174.48 L210.90 175.37 L211.25 176.61 L211.60 178.39 L211.95 178.90 L212.30 179.45 L212.65 179.69 L213.00 179.50 L213.35 180.95 L213.70 180.91 L214.05 181.39 L214.40 181.44 L214.75 181.12 L215.10 182.19 L215.45 182.39 L215.80 181.43 L216.15 181.54 L216.50 181.83 L216.85 182.44 L217.20 181.88 L217.55 182.56 L217.90 182.02 L218.25 182.21 L218.60 182.55 L218.95 182.29 L219.30 182.06 L219.65 182.48 L220.00 182.91 L220.35 182.55 L220.70 182.21 L221.05 182.15 L221.40 182.68 L221.75 181.96 L222.10 181.87 L222.45 182.00 L222.80 182.85 L223.15 182.90 L223.50 182.41 L223.85 182.21 L224.20 182.46 L224.55 182.88 L224.90 182.40 L225.25 182.77 L225.60 182.77 L225.95 182.72 L226.30 182.85 L226.65 182.47 L227.00 182.11 L227.35 182.86 L227.70 183.12 L228.05 182.74 L228.40 182.26 L228.75 183.09 L229.10 183.10 L229.45 183.10 L229.80 182.80 L230.15 183.12 L230.50 182.27 L230.85 182.67 L231.20 183.23 L231.55 183.34 L231.90 183.22 L232.25 182.95 L232.60 182.93 L232.95 182.59 L233.30 182.44 L233.65 183.33 L234.00 183.03 L234.35 182.94 L234.70 183.08 L235.05 183.03 L235.40 182.93 L235.75 183.39 L236.10 182.87 L236.45 182.96 L236.80 183.66 L237.15 182.81 L237.50 183.88 L237.85 183.29 L238.20 183.86 L238.55 183.95 L238.90 183.88 L239.25 183.10 L239.60 183.75 L239.95 183.42 L240.30 183.24 L240.65 183.47 L241.00 183.63 L241.35 183.39 L241.70 183.49 L242.05 183.32 L242.40 183.16 L242.75 183.62 L243.10 184.00 L243.45 183.05 L243.80 183.83 L244.15 183.82 L244.50 184.00 L244.85 183.50 L245.20 183.39 L245.55 183.34 L245.90 183.93 L246.25 183.94 L246.60 183.92 L246.95 183.30 L247.30 183.36 L247.65 183.17 L248.00 183.57 L248.35 182.94 L248.70 183.46 L249.05 183.46 L249.40 183.24 L249.75 182.90 L250.10 183.06 L250.45 183.41 L250.80 183.59 L251.15 182.96 L251.50 183.55 L251.85 183.91 L252.20 183.65 L252.55 183.72 L252.90 183.69 L253.25 182.84 L253.60 182.78 L253.95 183.63 L254.30 183.14 L254.65 182.94 L255.00 183.70 L255.35 183.39 L255.70 182.90 L256.05 183.66 L256.40 183.16 L256.75 183.81 L257.10 183.02 L257.45 182.88 L257.80 184.02 L258.15 183.29 L258.50 183.88 L258.85 183.19 L259.20 183.35 L259.55 182.62 L259.90 182.76 L260.25 183.34 L260.60 183.80 L260.95 183.78 L261.30 183.86 L261.65 183.67 L262.00 183.87 L262.35 182.99 L262.70 182.86 L263.05 182.98 L263.40 183.25 L263.75 182.85 L264.10 182.36 L264.45 182.56 L264.80 182.83 L265.15 182.89 L265.50 182.76 L265.85 182.94 L266.20 183.02 L266.55 183.28 L266.90 182.76 L267.25 183.50 L267.60 182.91 L267.95 183.05 L268.30 182.88 L268.65 183.11 L269.00 182.87 L269.35 182.51 L269.70 182.42 L270.05 182.12 L270.40 182.43 L270.75 182.31 L271.10 182.66 L271.45 182.40 L271.80 182.85 L272.15 182.81 L272.50 182.28 L272.85 182.06 L273.20 181.79 L273.55 182.53 L273.90 182.59 L274.00 182.18 L274.25 182.40 L274.60 181.82 L274.95 182.08 L275.30 181.83 L275.65 182.55 L276.00 182.16 L276.35 182.65 L276.70 182.47 L277.05 181.93 L277.40 182.06 L277.75 182.26 L278.10 182.60 L278.45 182.46 L278.80 182.26 L279.15 182.64 L279.50 182.41 L279.85 182.62 L280.20 182.26 L280.55 181.81 L280.90 183.25 L281.25 182.33 L281.60 182.60 L281.95 183.34 L282.30 182.99 L282.65 183.01 L283.00 182.71 L283.35 182.78 L283.70 182.78 L284.05 183.42 L284.40 182.95 L284.75 182.66 L285.10 182.80 L285.45 182.86 L285.80 183.89 L286.15 183.15 L286.50 182.95 L286.85 183.31 L287.20 182.89 L287.55 183.60 L287.90 183.57 L288.25 183.56 L288.60 183.52 L288.95 183.50 L289.30 183.62 L289.65 183.96 L290.00 183.21 L290.35 183.26 L290.70 183.66 L291.05 183.53 L291.40 183.39 L291.75 183.03 L292.10 183.05 L292.45 183.59 L292.80 183.44 L293.15 184.05 L293.50 183.96 L293.85 183.78 L294.20 183.58 L294.55 183.83 L294.90 183.36 L295.25 183.13 L295.60 183.24 L295.95 183.23 L296.30 183.81 L296.65 183.91 L297.00 183.65 L297.35 183.15 L297.70 183.91 L298.05 184.01 L298.40 183.50 L298.75 183.64 L299.10 183.03 L299.45 183.65 L299.80 182.96 L300.15 183.34 L300.50 183.86 L300.85 183.62 L301.20 183.28 L301.55 183.88 L301.90 183.49 L302.25 183.90 L302.60 183.45 L302.95 183.73 L303.30 183.62 L303.65 182.78 L304.00 182.75 L304.35 182.68 L304.70 182.72 L305.05 183.60 L305.40 183.16 L305.75 183.14 L306.10 183.25 L306.45 182.09 L306.80 182.50 L307.15 182.10 L307.50 182.02 L307.85 182.53 L308.20 182.55 L308.55 182.16 L308.90 182.10 L309.25 182.05 L309.60 181.15 L309.95 181.38 L310.30 180.66 L310.65 180.88 L311.00 180.33 L311.35 179.79 L311.70 179.87 L312.05 179.09 L312.30 178.82 L312.40 179.26 L312.75 179.36 L313.10 180.40 L313.45 179.64 L313.80 180.39 L314.15 180.64 L314.50 180.55 L314.85 181.64 L315.20 181.76 L315.55 181.73 L315.90 182.46 L316.25 181.59 L316.60 182.36 L316.95 182.08 L317.30 182.56 L317.65 182.65 L318.00 183.26 L318.35 183.47 L318.70 182.45 L319.05 182.89 L319.40 183.21 L319.75 182.69 L320.10 182.75 L320.45 183.46 L320.80 182.45 L321.15 183.04 L321.50 183.24 L321.85 183.26 L322.20 182.46 L322.55 183.33 L322.90 182.00 L323.25 182.06 L323.60 182.83 L323.95 182.40 L324.30 182.72 L324.65 183.28 L325.00 182.99" stroke="#2ad82a" stroke-width="1.5"/>
</g>
<g stroke="#000" stroke-width="1.8"><line x1="65.3" y1="177.5" x2="65.3" y2="218.5"/><line x1="87.4" y1="201.9" x2="87.4" y2="218.5"/><line x1="162.0" y1="192.2" x2="162.0" y2="218.5"/><line x1="206.0" y1="199.0" x2="206.0" y2="218.5"/><line x1="220.5" y1="208.0" x2="220.5" y2="218.5"/><line x1="274.0" y1="206.7" x2="274.0" y2="218.5"/><line x1="310.0" y1="204.5" x2="310.0" y2="218.5"/><line x1="322.2" y1="208.7" x2="322.2" y2="218.5"/><line x1="57.2" y1="226.5" x2="57.2" y2="254.6"/><line x1="65.2" y1="236.0" x2="65.2" y2="254.6"/><line x1="75.3" y1="228.0" x2="75.3" y2="254.6"/><line x1="121.0" y1="243.7" x2="121.0" y2="254.6"/><line x1="162.1" y1="236.8" x2="162.1" y2="254.6"/><line x1="182.3" y1="237.0" x2="182.3" y2="254.6"/><line x1="196.8" y1="248.4" x2="196.8" y2="254.6"/><line x1="205.8" y1="242.4" x2="205.8" y2="254.6"/><line x1="211.4" y1="248.9" x2="211.4" y2="254.6"/><line x1="218.5" y1="250.8" x2="218.5" y2="254.6"/><line x1="241.3" y1="250.5" x2="241.3" y2="254.6"/><line x1="254.6" y1="251.4" x2="254.6" y2="254.6"/><line x1="288.5" y1="248.6" x2="288.5" y2="254.6"/><line x1="304.0" y1="249.2" x2="304.0" y2="254.6"/><line x1="313.0" y1="250.0" x2="313.0" y2="254.6"/><line x1="320.5" y1="250.8" x2="320.5" y2="254.6"/></g>
<g fill="#000">
<rect x="22" y="0" width="2" height="255.6"/>
<rect x="325.1" y="0" width="2" height="255.6"/>
<rect x="22" y="0" width="305" height="2.1"/>
<rect x="22" y="253.8" width="305" height="1.8"/>
<rect x="22" y="217.8" width="305" height="1.5"/>
</g>
<g class="s" font-size="12.5" fill="#000" text-anchor="middle">
<text x="20.9" y="269.3">20</text>
<text x="71.6" y="269.3">30</text>
<text x="122.1" y="269.3">40</text>
<text x="172.7" y="269.3">50</text>
<text x="223.4" y="269.3">60</text>
<text x="274.1" y="269.3">70</text>
<text x="324.6" y="269.3">80</text>
</g>
<text class="r" x="145.4" y="287.1" font-size="13.2" fill="#000" textLength="62.2" lengthAdjust="spacingAndGlyphs">2θ (degree)</text>
<text class="r" transform="translate(9.9,173.6) rotate(-90)" font-size="13" fill="#000" textLength="78" lengthAdjust="spacingAndGlyphs">Intensity (a.u.)</text>
<g class="s" font-size="12.5">
<text x="248.7" y="86">(a)</text>
<text x="249.4" y="129">(b)</text>
<text x="249.7" y="169">(c)</text>
</g>
<g class="s" font-size="13">
<text x="246.0" y="21.4" fill="#000">(a)</text>
<text x="246.0" y="37.2" fill="#ee1414">(b)</text>
<text x="246.3" y="53.6" fill="#2ad82a">(c)</text>
</g>
<g class="r" font-size="12.8">
<text x="264.8" y="21.1" fill="#000" style="stroke:none" textLength="44.0" lengthAdjust="spacingAndGlyphs">Zn:S=3:1</text>
<text x="265.2" y="36.9" fill="#ee1414" style="stroke:none" textLength="43.5" lengthAdjust="spacingAndGlyphs">Zn:S=1:1</text>
<text x="265.7" y="53.3" fill="#2ad82a" style="stroke:none" textLength="42.6" lengthAdjust="spacingAndGlyphs">Zn:S=1:3</text>
</g>
<text class="r" x="237.5" y="200.5" font-size="12.8" fill="#000" textLength="77.4" lengthAdjust="spacingAndGlyphs">Sphalerite-ZnS</text>
<text class="r" x="239.8" y="238.9" font-size="12.3" fill="#000" textLength="66.2" lengthAdjust="spacingAndGlyphs">Wurtzite-ZnS</text>
</svg>
</body></html>
